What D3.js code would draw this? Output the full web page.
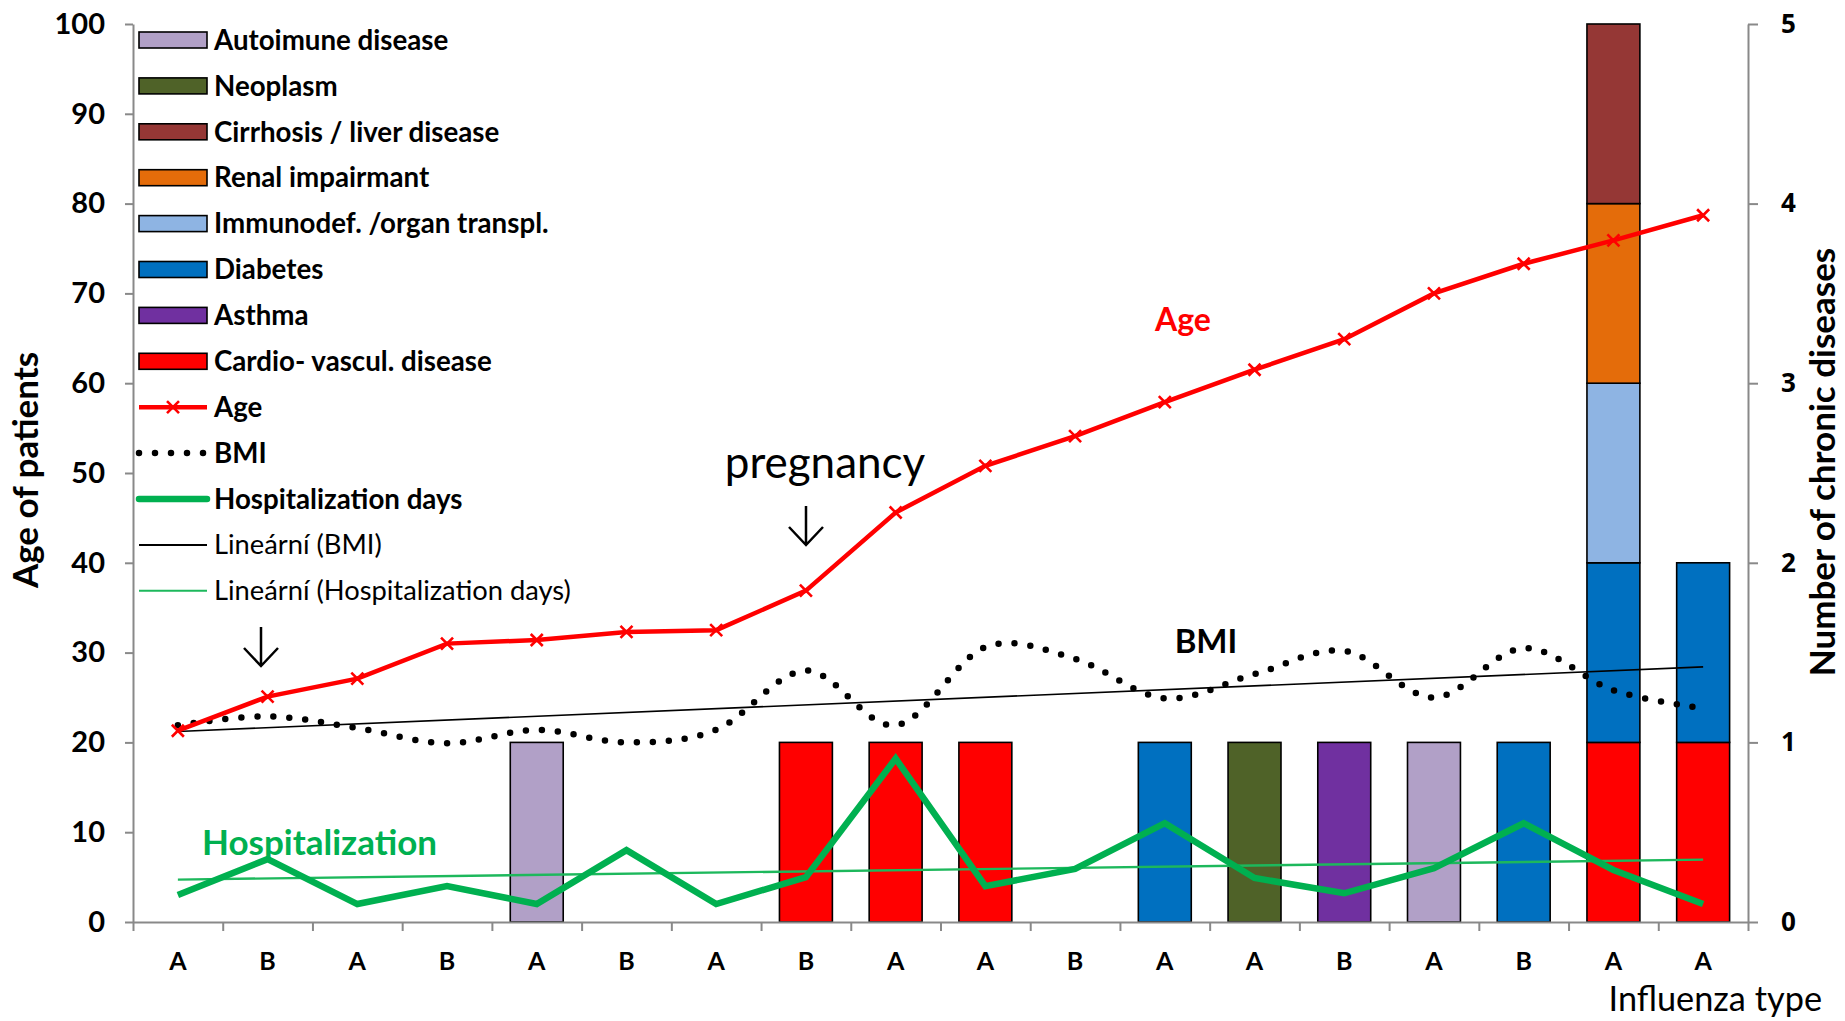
<!doctype html>
<html lang="en">
<head>
  <meta charset="utf-8">
  <title>Influenza patients</title>
  <script src="https://cdn.jsdelivr.net/npm/d3@7"></script>
  <style>
    body { margin: 0; background: #fff; }
    text { font-family: Lato, "Open Sans", sans-serif; }
  </style>
</head>
<body>
<div id="chart"></div>
<script>
// --- data ---
const fluType = ['A','B','A','B','A','B','A','B','A','A','B','A','A','B','A','B','A','A'];
const age = [21.3, 25.1, 27.1, 31.0, 31.4, 32.3, 32.5, 36.9, 45.6, 50.8, 54.1, 57.9, 61.5, 64.9, 70.0, 73.3, 75.9, 78.7];
const bmi = [21.9, 22.9, 21.6, 19.9, 21.4, 20.0, 21.4, 28.0, 21.9, 30.6, 29.3, 24.9, 27.6, 30.2, 25.0, 30.5, 25.8, 23.8];
const hospDays = [3, 7, 2, 4, 2, 8, 2, 5, 18.2, 4, 5.9, 11, 4.9, 3.2, 6, 11, 5.8, 2];

// chronic diseases per patient (stack order bottom -> top)
const diseaseNames = ['Cardio- vascul. disease', 'Asthma', 'Diabetes', 'Immunodef. /organ transpl.',
  'Renal impairmant', 'Cirrhosis / liver disease', 'Neoplasm', 'Autoimune disease'];
const cardio    = [0,0,0,0,0,0,0,1,1,1,0,0,0,0,0,0,1,1];
const asthma    = [0,0,0,0,0,0,0,0,0,0,0,0,0,1,0,0,0,0];
const diabetes  = [0,0,0,0,0,0,0,0,0,0,0,1,0,0,0,1,1,1];
const immunodef = [0,0,0,0,0,0,0,0,0,0,0,0,0,0,0,0,1,0];
const renal     = [0,0,0,0,0,0,0,0,0,0,0,0,0,0,0,0,1,0];
const cirrhosis = [0,0,0,0,0,0,0,0,0,0,0,0,0,0,0,0,1,0];
const neoplasm  = [0,0,0,0,0,0,0,0,0,0,0,0,1,0,0,0,0,0];
const autoimune = [0,0,0,0,1,0,0,0,0,0,0,0,0,0,1,0,0,0];
const diseaseCounts = [cardio, asthma, diabetes, immunodef, renal, cirrhosis, neoplasm, autoimune];

const ageTicks = [0, 10, 20, 30, 40, 50, 60, 70, 80, 90, 100];
const countTicks = [0, 1, 2, 3, 4, 5];

// --- styles ---
const diseaseColors = ['#FF0000', '#7030A0', '#0070C0', '#8EB4E3', '#E46C0A', '#953735', '#4F6228', '#B1A0C7'];
const axisGrey = '#898989';
const green = '#00B050';

const W = 1845, H = 1021;
const plot = { left: 133, right: 1748, top: 24, bottom: 922 };

const svg = d3.select('#chart').append('svg')
  .attr('width', W).attr('height', H);

const idx = d3.range(fluType.length);
const x = d3.scaleBand().domain(idx).range([plot.left, plot.right]);
const xLin = d3.scaleLinear().domain([0, fluType.length]).range([plot.left, plot.right]);
const cx = i => x(i) + x.bandwidth() / 2;
const yL = d3.scaleLinear().domain([0, 100]).range([plot.bottom, plot.top]);
const yR = d3.scaleLinear().domain([0, 5]).range([plot.bottom, plot.top]);

// stacked bars
const rows = idx.map(i => {
  const r = {};
  diseaseNames.forEach((n, k) => r[n] = diseaseCounts[k][i]);
  return r;
});
const stacked = d3.stack().keys(diseaseNames)(rows);
const barW = x.bandwidth() * 0.59;

svg.append('g').selectAll('g')
  .data(stacked)
  .join('g')
  .attr('fill', (d, k) => diseaseColors[k])
  .selectAll('rect')
  .data(d => d.map((v, i) => ({ v, i })).filter(o => o.v[1] > o.v[0]))
  .join('rect')
  .attr('x', o => cx(o.i) - barW / 2)
  .attr('width', barW)
  .attr('y', o => yR(o.v[1]))
  .attr('height', o => yR(o.v[0]) - yR(o.v[1]))
  .attr('stroke', '#000')
  .attr('stroke-width', 1.6);

// axes
const axL = svg.append('g')
  .attr('transform', `translate(${plot.left},0)`)
  .call(d3.axisLeft(yL).tickValues(ageTicks).tickSize(8).tickSizeOuter(0).tickPadding(20));
const axR = svg.append('g')
  .attr('transform', `translate(${plot.right},0)`)
  .call(d3.axisRight(yR).tickValues(countTicks).tickFormat(d3.format('d'))
    .tickSize(10).tickSizeOuter(0).tickPadding(23));
const axB = svg.append('g')
  .attr('transform', `translate(0,${plot.bottom})`)
  .call(d3.axisBottom(xLin).tickValues(d3.range(fluType.length + 1)).tickSize(9).tickSizeOuter(0).tickFormat(''));

[axL, axR, axB].forEach(a => {
  a.selectAll('path, line').attr('stroke', axisGrey).attr('stroke-width', 2);
});
axL.selectAll('text').style('font-size', '29px').style('font-weight', 700).attr('fill', '#000');
axR.selectAll('text').style('font-family', '"Open Sans", sans-serif')
  .style('font-size', '26px').style('font-weight', 700).attr('fill', '#000');

svg.append('g').selectAll('text')
  .data(fluType)
  .join('text')
  .attr('x', (d, i) => cx(i))
  .attr('y', 970)
  .attr('text-anchor', 'middle')
  .style('font-size', '25px').style('font-weight', 700)
  .text(d => d);

// trend lines (least squares)
function linFit(vals) {
  const n = vals.length, mx = d3.mean(idx), my = d3.mean(vals);
  const sxy = d3.sum(idx, i => (i - mx) * (vals[i] - my));
  const sxx = d3.sum(idx, i => (i - mx) * (i - mx));
  const b = sxy / sxx;
  return [0, n - 1].map(i => [i, my + b * (i - mx)]);
}

const lineL = d3.line().x(d => cx(d[0])).y(d => yL(d[1]));

svg.append('path')
  .attr('d', lineL(linFit(bmi)))
  .attr('fill', 'none').attr('stroke', '#000').attr('stroke-width', 1.6);
svg.append('path')
  .attr('d', lineL(linFit(hospDays)))
  .attr('fill', 'none').attr('stroke', '#1DB85C').attr('stroke-width', 2.4);

// BMI smoothed dotted
svg.append('path')
  .attr('d', d3.line().x((d, i) => cx(i)).y(d => yL(d)).curve(d3.curveCardinal.tension(0))(bmi))
  .attr('fill', 'none').attr('stroke', '#000').attr('stroke-width', 6.5)
  .attr('stroke-linecap', 'round').attr('stroke-dasharray', '0 16');

// hospitalization days
svg.append('path')
  .attr('d', d3.line().x((d, i) => cx(i)).y(d => yL(d))(hospDays))
  .attr('fill', 'none').attr('stroke', green).attr('stroke-width', 6.5);

// age
svg.append('path')
  .attr('d', d3.line().x((d, i) => cx(i)).y(d => yL(d))(age))
  .attr('fill', 'none').attr('stroke', '#FF0000').attr('stroke-width', 4.5);

const cross = 'M-6,-6L6,6M-6,6L6,-6';
svg.append('g').selectAll('path')
  .data(age)
  .join('path')
  .attr('transform', (d, i) => `translate(${cx(i)},${yL(d)})`)
  .attr('d', cross)
  .attr('stroke', '#FF0000').attr('stroke-width', 2.6);

// legend
const legendItems = [
  { label: 'Autoimune disease', type: 'box', color: diseaseColors[7] },
  { label: 'Neoplasm', type: 'box', color: diseaseColors[6] },
  { label: 'Cirrhosis / liver disease', type: 'box', color: diseaseColors[5] },
  { label: 'Renal impairmant', type: 'box', color: diseaseColors[4] },
  { label: 'Immunodef. /organ transpl.', type: 'box', color: diseaseColors[3] },
  { label: 'Diabetes', type: 'box', color: diseaseColors[2] },
  { label: 'Asthma', type: 'box', color: diseaseColors[1] },
  { label: 'Cardio- vascul. disease', type: 'box', color: diseaseColors[0] },
  { label: 'Age', type: 'age' },
  { label: 'BMI', type: 'dots' },
  { label: 'Hospitalization days', type: 'thick' },
  { label: 'Lineární (BMI)', type: 'thin', color: '#000', normal: true },
  { label: 'Lineární (Hospitalization days)', type: 'thin', color: '#1DB85C', normal: true }
];

const lg = svg.append('g').selectAll('g')
  .data(legendItems)
  .join('g')
  .attr('transform', (d, i) => `translate(139,${40 + i * 45.9})`);

lg.each(function(d) {
  const g = d3.select(this);
  if (d.type === 'box') {
    g.append('rect').attr('x', 0).attr('y', -8).attr('width', 68).attr('height', 16)
      .attr('fill', d.color).attr('stroke', '#000').attr('stroke-width', 1.6);
  } else if (d.type === 'age') {
    g.append('line').attr('x1', 0).attr('x2', 68).attr('stroke', '#FF0000').attr('stroke-width', 4.5);
    g.append('path').attr('transform', 'translate(34,0)').attr('d', cross)
      .attr('stroke', '#FF0000').attr('stroke-width', 2.6);
  } else if (d.type === 'dots') {
    g.append('line').attr('x1', 0).attr('x2', 68).attr('stroke', '#000').attr('stroke-width', 6.5)
      .attr('stroke-linecap', 'round').attr('stroke-dasharray', '0 16');
  } else if (d.type === 'thick') {
    g.append('line').attr('x1', 0).attr('x2', 68).attr('stroke', green).attr('stroke-width', 6.5)
      .attr('stroke-linecap', 'round');
  } else {
    g.append('line').attr('x1', 0).attr('x2', 68).attr('stroke', d.color).attr('stroke-width', 2);
  }
  g.append('text').attr('x', 75).attr('dy', '0.35em')
    .style('font-size', d.normal ? '27.3px' : '27.7px').style('font-weight', d.normal ? 400 : 700)
    .attr('fill', '#000')
    .text(d.label);
});

// axis titles
svg.append('text')
  .attr('transform', 'translate(38,470) rotate(-90)')
  .attr('text-anchor', 'middle')
  .style('font-size', '35px').style('font-weight', 700)
  .text('Age of patients');
svg.append('text')
  .attr('transform', 'translate(1835,462) rotate(-90)')
  .attr('text-anchor', 'middle')
  .style('font-size', '35px').style('font-weight', 700)
  .text('Number of chronic diseases');
svg.append('text')
  .attr('x', 1822).attr('y', 1011)
  .attr('text-anchor', 'end')
  .style('font-size', '34.3px')
  .text('Influenza type');

// annotations
svg.append('text').attr('x', 1183).attr('y', 331).attr('text-anchor', 'middle')
  .style('font-size', '32px').style('font-weight', 700).style('fill', '#FF0000').text('Age');
svg.append('text').attr('x', 1206).attr('y', 653).attr('text-anchor', 'middle')
  .style('font-size', '33px').style('font-weight', 700).style('fill', '#000').text('BMI');
svg.append('text').attr('x', 202).attr('y', 855)
  .style('font-size', '35px').style('font-weight', 700).style('fill', green).text('Hospitalization');
svg.append('text').attr('x', 825).attr('y', 478).attr('text-anchor', 'middle')
  .style('font-size', '44px').style('fill', '#000').text('pregnancy');

const arrow = h => `M0,0V${h}M-17,${h - 18}L0,${h}L17,${h - 18}`;
[[806, 506], [261, 627]].forEach(p => {
  svg.append('path').attr('transform', `translate(${p[0]},${p[1]})`).attr('d', arrow(39))
    .attr('fill', 'none').attr('stroke', '#000').attr('stroke-width', 2.5);
});
</script>
</body>
</html>
